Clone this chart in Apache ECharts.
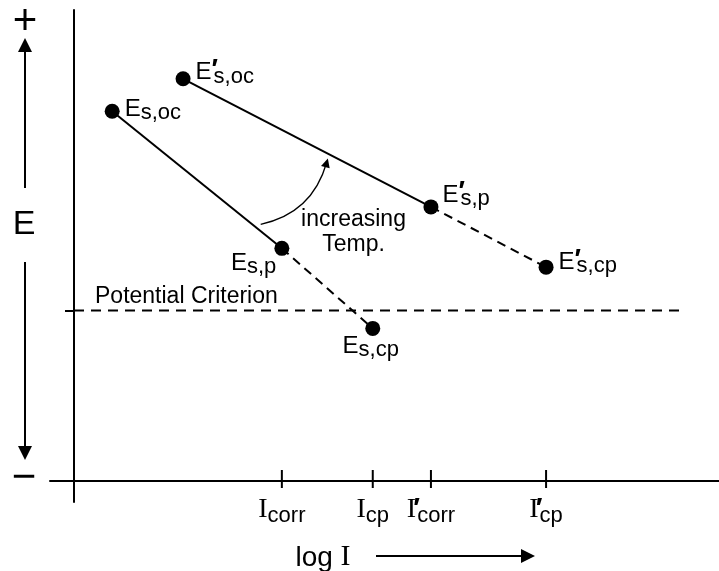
<!DOCTYPE html>
<html><head><meta charset="utf-8">
<script src="https://cdn.jsdelivr.net/npm/echarts@6/dist/echarts.min.js"></script>
<style>html,body{margin:0;padding:0;background:#fff}#c{width:719px;height:571px}</style>
</head><body><div id="c"></div>
<script>
// ---------- data (schematic units: x = log I, y = E) ----------
const lowTempX  = [0.63, 3.43, 4.93];   // E_s,oc  E_s,p  E_s,cp
const lowTempY  = [7.85, 4.94, 3.24];
const highTempX = [1.80, 5.89, 7.79];   // E'_s,oc E'_s,p E'_s,cp
const highTempY = [8.54, 5.82, 4.54];
const pointSubs = ['s,oc', 's,p', 's,cp'];
const criterionE = 3.62;
const criterionX = [0, 10];
const tickValues = [3.43, 4.93, 5.89, 7.79];
const tickSubs   = ['corr', 'cp', 'corr', 'cp'];
const tickPrimed = [false, false, true, true];

// ---------- layout ----------
const PX = 60.6, PY = 47.1;           // px per unit
const X_MIN = -24 / PX, X_MAX = 645 / PX;
const Y_MIN = -21 / PY, Y_MAX = 10;
const SANS = '"Liberation Sans", Arial, Helvetica, sans-serif';
const SERIF = '"Liberation Serif", "Times New Roman", serif';
const BLACK = '#000';

const richPt = {
  e: {fontSize: 24, fontFamily: SANS, color: BLACK, verticalAlign: 'bottom', lineHeight: 26, height: 26},
  p: {fontSize: 27, fontFamily: SANS, fontWeight: 'bold', color: BLACK, verticalAlign: 'bottom', lineHeight: 30, height: 30, width: 2},
  s: {fontSize: 22, fontFamily: SANS, color: BLACK, verticalAlign: 'bottom', lineHeight: 13, height: 18}
};
const richTick = {
  i: {fontSize: 28, fontFamily: SERIF, color: BLACK, verticalAlign: 'bottom', lineHeight: 30, height: 30},
  p: {fontSize: 28, fontFamily: SANS, fontWeight: 'bold', color: BLACK, verticalAlign: 'bottom', lineHeight: 26, height: 31, width: 1},
  s: {fontSize: 22, fontFamily: SANS, color: BLACK, verticalAlign: 'bottom', lineHeight: 8, height: 19}
};
function ptLabel(sub, primed) {
  return '{e|E}' + (primed ? '{p|′}' : '') + '{s|' + sub + '}';
}
const lowPlace  = [{position: 'right', distance: 5, offset: [0, -2]},
                   {position: 'left', distance: 0, offset: [2, 15]},
                   {position: 'bottom', distance: 2, offset: [-2, -5]}];
const highPlace = [{position: 'right', distance: 5, offset: [0, -8]},
                   {position: 'right', distance: 4, offset: [0, -14]},
                   {position: 'right', distance: 5, offset: [0, -7]}];

const pointData = [];
lowTempX.forEach((x, i) => pointData.push({
  value: [x, lowTempY[i]],
  label: Object.assign({show: true, formatter: ptLabel(pointSubs[i], false), rich: richPt}, lowPlace[i])
}));
highTempX.forEach((x, i) => pointData.push({
  value: [x, highTempY[i]],
  label: Object.assign({show: true, formatter: ptLabel(pointSubs[i], true), rich: richPt}, highPlace[i])
}));

function seg(xs, ys, a, b) { return [[xs[a], ys[a]], [xs[b], ys[b]]]; }
const solid = {type: 'solid', color: BLACK, width: 2};
const dashed = {type: [9, 6], color: BLACK, width: 2};

// annotation positions (layout, in chart units)
const ann = [
  {value: [-49 / PX, 459 / PY], label: {formatter: '+', fontSize: 42, lineHeight: 42}},
  {value: [-50 / PX, 3 / PY], label: {formatter: '−', fontSize: 42, lineHeight: 42}},
  {value: [-50 / PX, 256 / PY], label: {formatter: 'E', fontSize: 34}},
  {value: [279.5 / PX, 249 / PY], label: {formatter: 'increasing\nTemp.', fontSize: 23, lineHeight: 25}},
  {value: [21 / PX, 184 / PY], label: {formatter: 'Potential Criterion', fontSize: 23, align: 'left'}},
  {value: [249 / PX, -76 / PY], label: {formatter: '{a|log }{b|I}', rich: {
     a: {fontSize: 28, fontFamily: SANS, color: BLACK, verticalAlign: 'bottom', lineHeight: 30},
     b: {fontSize: 30, fontFamily: SERIF, color: BLACK, verticalAlign: 'bottom', lineHeight: 30}}}}
];
ann.forEach(a => Object.assign(a.label, {show: true, position: 'inside', color: BLACK, fontFamily: SANS}));

const arrowsStraight = [
  {coords: [[-49 / PX, 293 / PY], [-49 / PX, 436 / PY]]},
  {coords: [[-49 / PX, 219 / PY], [-49 / PX, 28 / PY]]},
  {coords: [[302 / PX, -75 / PY], [454 / PX, -75 / PY]]}
];
const arrowsCurved = [
  {coords: [[186.7 / PX, 256.7 / PY], [252.6 / PX, 318.2 / PY]]}
];

const option = {
  animation: false,
  backgroundColor: '#fff',
  grid: {left: 50, right: 0, top: 10, bottom: 69, containLabel: false},
  xAxis: {
    type: 'value', min: X_MIN, max: X_MAX,
    axisLine: {onZero: true, lineStyle: {color: BLACK, width: 2}},
    axisTick: {show: false},
    splitLine: {show: false},
    axisLabel: {
      customValues: tickValues, margin: -7, color: BLACK,
      formatter: (v) => {
        const i = tickValues.indexOf(v);
        return '{i|I}' + (tickPrimed[i] ? '{p|′}' : '') + '{s|' + tickSubs[i] + '}';
      },
      rich: richTick
    }
  },
  yAxis: {
    type: 'value', min: Y_MIN, max: Y_MAX,
    axisLine: {onZero: true, lineStyle: {color: BLACK, width: 2}},
    axisTick: {show: true, customValues: [criterionE], length: 9, lineStyle: {color: BLACK, width: 2}},
    axisLabel: {show: false},
    splitLine: {show: false}
  },
  series: [
    {type: 'line', data: criterionX.map(x => [x, criterionE]), showSymbol: false, lineStyle: {type: [10, 7], color: BLACK, width: 2}, z: 2},
    {type: 'line', data: seg(lowTempX, lowTempY, 0, 1), showSymbol: false, lineStyle: solid, z: 3},
    {type: 'line', data: seg(lowTempX, lowTempY, 1, 2), showSymbol: false, lineStyle: dashed, z: 3},
    {type: 'line', data: seg(highTempX, highTempY, 0, 1), showSymbol: false, lineStyle: solid, z: 3},
    {type: 'line', data: seg(highTempX, highTempY, 1, 2), showSymbol: false, lineStyle: dashed, z: 3},
    {type: 'scatter', data: pointData, symbolSize: 15, itemStyle: {color: BLACK, opacity: 1}, z: 5},
    {type: 'scatter', data: tickValues.map(v => [v, 0]), symbol: 'rect', symbolSize: [2, 18], symbolOffset: [0, -2],
     itemStyle: {color: BLACK, opacity: 1}, clip: false, z: 4},
    {type: 'scatter', data: ann, symbolSize: 0, itemStyle: {opacity: 1}, clip: false, z: 6},
    {type: 'lines', coordinateSystem: 'cartesian2d', data: arrowsStraight, clip: false,
     symbol: ['none', 'triangle'], symbolSize: 14, lineStyle: {color: BLACK, width: 2, curveness: 0, opacity: 1}, z: 6},
    {type: 'lines', coordinateSystem: 'cartesian2d', data: arrowsCurved, clip: false,
     symbol: ['none', 'triangle'], symbolSize: 9, lineStyle: {color: BLACK, width: 1.3, curveness: -0.3, opacity: 1}, z: 6}
  ]
};
const chart = echarts.init(document.getElementById('c'), null, {renderer: 'canvas'});
chart.setOption(option);
</script>
</body></html>
